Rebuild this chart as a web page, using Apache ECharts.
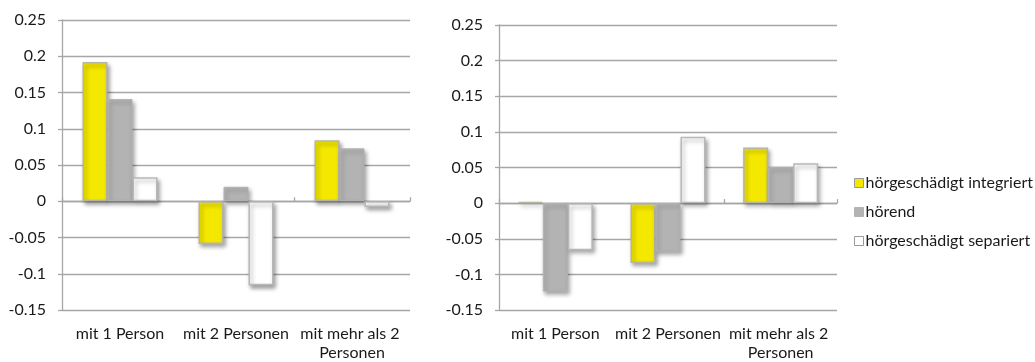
<!DOCTYPE html>
<html>
<head>
<meta charset="utf-8">
<script src="https://cdn.jsdelivr.net/npm/echarts@6/dist/echarts.min.js"></script>
<style>
  html, body { margin: 0; padding: 0; background: #fff; }
  #chart { width: 1035px; height: 362px; }
</style>
</head>
<body>
<div id="chart"></div>
<script>
// Categories and series values for the two panels
const categories = ['mit 1 Person', 'mit 2 Personen', 'mit mehr als 2 Personen'];
const seriesNames = ['hörgeschädigt integriert', 'hörend', 'hörgeschädigt separiert'];

// Left panel
const leftIntegriert = [0.192, -0.059, 0.084];
const leftHoerend    = [0.141, 0.020, 0.073];
const leftSepariert  = [0.033, -0.116, -0.008];

// Right panel
const rightIntegriert = [0.002, -0.084, 0.078];
const rightHoerend    = [-0.124, -0.068, 0.051];
const rightSepariert  = [-0.066, 0.093, 0.056];

// Value-axis ticks
const yTicks = [-0.15, -0.1, -0.05, 0, 0.05, 0.1, 0.15, 0.2, 0.25];

const FONT = 'Lato, "Noto Sans", sans-serif';
const FONT_SIZE = 16;
const GRID_COLOR = '#a6a6a6';
const TEXT_COLOR = '#1a1a1a';

const styles = [
  { color: '#f5e800', borderColor: '#b5b5a0', borderWidth: 1.5 },
  { color: '#b3b3b3', borderColor: '#b3b3b3', borderWidth: 1 },
  { color: '#ffffff', borderColor: '#b8b8b8', borderWidth: 1.5 }
];
const shadow = { shadowColor: 'rgba(0,0,0,0.35)', shadowBlur: 4, shadowOffsetX: 2, shadowOffsetY: 3 };

const chart = echarts.init(document.getElementById('chart'), null, { renderer: 'canvas' });

function valueAxis(gridIndex) {
  return {
    type: 'value',
    gridIndex,
    min: yTicks[0],
    max: yTicks[yTicks.length - 1],
    interval: 0.05,
    axisLine: { show: true, lineStyle: { color: GRID_COLOR, width: 1.3 } },
    axisTick: { show: true, length: 4, lineStyle: { color: GRID_COLOR, width: 1.3 } },
    splitLine: { show: true, lineStyle: { color: GRID_COLOR, width: 1.3 } },
    axisLabel: {
      margin: 16,
      color: TEXT_COLOR,
      fontFamily: FONT,
      fontSize: FONT_SIZE,
      formatter: v => String(Math.round(v * 100) / 100)
    }
  };
}

function labelAxis(gridIndex, width) {
  return {
    type: 'category',
    gridIndex,
    data: categories,
    position: 'bottom',
    axisLine: { show: false, onZero: false },
    axisTick: { show: false },
    splitLine: { show: false },
    axisLabel: {
      margin: 14,
      color: TEXT_COLOR,
      fontFamily: FONT,
      fontSize: FONT_SIZE,
      lineHeight: 19,
      width: width,
      overflow: 'break',
      interval: 0
    }
  };
}

function zeroAxis(gridIndex) {
  return {
    type: 'category',
    gridIndex,
    data: categories,
    axisLine: { show: true, onZero: true, lineStyle: { color: GRID_COLOR, width: 1.3 } },
    axisTick: { show: true, length: 4, inside: false, lineStyle: { color: GRID_COLOR, width: 1.3 } },
    axisLabel: { show: false },
    splitLine: { show: false }
  };
}

function bars(values, i, axisIndex) {
  return {
    type: 'bar',
    name: seriesNames[i],
    xAxisIndex: axisIndex,
    yAxisIndex: axisIndex === 0 ? 0 : 1,
    data: values,
    barWidth: 25,
    barGap: '0%',
    itemStyle: Object.assign({}, styles[i], shadow),
    emphasis: { disabled: true }
  };
}

chart.setOption({
  animation: false,
  backgroundColor: '#ffffff',
  textStyle: { fontFamily: FONT },
  grid: [
    { left: 62, top: 20, width: 348, height: 293 },
    { left: 499, top: 25, width: 338, height: 288 }
  ],
  xAxis: [labelAxis(0, 116), labelAxis(1, 113), zeroAxis(0), zeroAxis(1)],
  yAxis: [valueAxis(0), valueAxis(1)],
  legend: {
    orient: 'vertical',
    left: 849,
    top: 170,
    itemWidth: 9,
    itemHeight: 9,
    itemGap: 13,
    icon: 'rect',
    textStyle: { color: TEXT_COLOR, fontFamily: FONT, fontSize: FONT_SIZE, lineHeight: 16, padding: [0, 0, 0, -3] },
    data: seriesNames.map((n, i) => ({
      name: n,
      itemStyle: { color: styles[i].color, borderColor: i === 1 ? styles[i].color : '#9a9a9a', borderWidth: 1, shadowBlur: 0, shadowOffsetX: 0, shadowOffsetY: 0 }
    }))
  },
  series: [
    bars(leftIntegriert, 0, 0),
    bars(leftHoerend, 1, 0),
    bars(leftSepariert, 2, 0),
    bars(rightIntegriert, 0, 1),
    bars(rightHoerend, 1, 1),
    bars(rightSepariert, 2, 1)
  ]
});
</script>
</body>
</html>
